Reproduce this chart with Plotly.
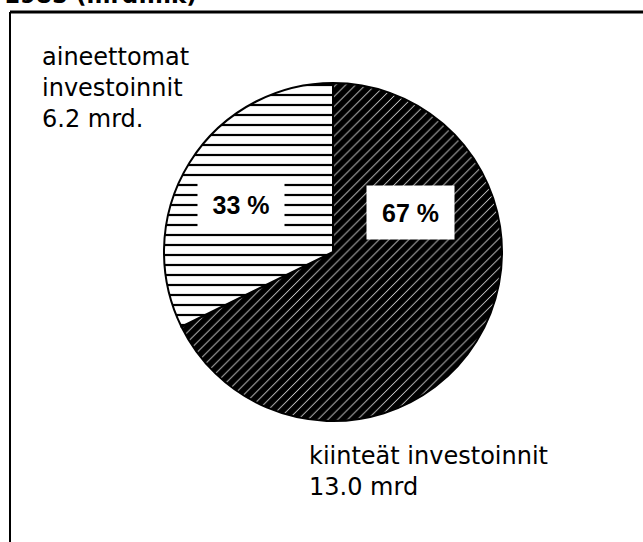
import plotly.graph_objects as go

# Data
names = ["kiinteät investoinnit", "aineettomat investoinnit"]
values = [13.0, 6.2]
value_labels = ["13.0 mrd", "6.2 mrd."]
pct_labels = ["67 %", "33 %"]
title_text = "1985 (mrd.mk)"

W, H = 643, 542

def px(x):
    return x / W

def py(y):
    return 1 - y / H

fig = go.Figure()
fig.add_trace(go.Pie(
    labels=names,
    values=values,
    sort=False,
    direction="clockwise",
    rotation=0,
    textinfo="none",
    hoverinfo="label+value",
    marker=dict(
        colors=["black", "black"],
        line=dict(color="black", width=2),
        pattern=dict(
            shape=["/", "-"],
            fgcolor=["black", "black"],
            bgcolor=["white", "white"],
            size=[7, 10],
            solidity=[0.9, 0.22],
        ),
    ),
    domain=dict(x=[px(164), px(502)], y=[py(421), py(83)]),
    showlegend=False,
))

annotations = []
# Title (cut off at top, as in the source)
annotations.append(dict(
    text="<b>" + title_text + "</b>", x=px(2), y=py(10), xref="paper", yref="paper",
    xanchor="left", yanchor="bottom", showarrow=False,
    font=dict(family="DejaVu Sans", size=23, color="black"),
))
# Category labels
annotations.append(dict(
    text="aineettomat<br>investoinnit<br>" + value_labels[1],
    x=px(40), y=py(88), xref="paper", yref="paper",
    xanchor="left", yanchor="middle", align="left", showarrow=False,
    font=dict(family="DejaVu Sans", size=24, color="black"),
))
annotations.append(dict(
    text=names[0] + "<br>" + value_labels[0],
    x=px(307), y=py(471), xref="paper", yref="paper",
    xanchor="left", yanchor="middle", align="left", showarrow=False,
    font=dict(family="DejaVu Sans", size=24, color="black"),
))
# Percent labels in white boxes
pct_pos = [(410, 212, 85, 51), (241, 204, 84, 47)]
for lab, (cx, cy, w, h) in zip(pct_labels, pct_pos):
    annotations.append(dict(
        text="<b>" + lab + "</b>", x=px(cx), y=py(cy), xref="paper", yref="paper",
        xanchor="center", yanchor="middle", showarrow=False,
        bgcolor="white", width=w, height=h,
        font=dict(family="Liberation Sans", size=25, color="black"),
    ))

shapes = [
    dict(type="line", xref="paper", yref="paper", x0=px(10), x1=1.0, y0=py(12), y1=py(12),
         line=dict(color="black", width=3)),
    dict(type="line", xref="paper", yref="paper", x0=px(10), x1=px(10), y0=py(12), y1=0,
         line=dict(color="black", width=2)),
]

fig.update_layout(
    width=W, height=H,
    margin=dict(l=0, r=0, t=0, b=0),
    paper_bgcolor="white",
    plot_bgcolor="white",
    annotations=annotations,
    shapes=shapes,
)

fig.write_html(
    "out.html",
    config={"displayModeBar": False},
    post_script="document.body.style.margin='0';document.body.style.overflow='hidden';",
)
